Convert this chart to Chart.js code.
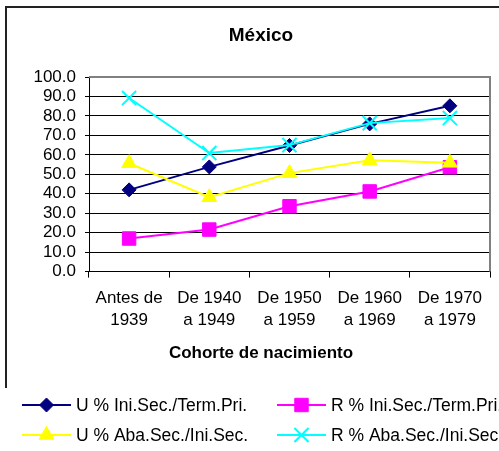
<!DOCTYPE html>
<html><head><meta charset="utf-8">
<script src="https://cdn.jsdelivr.net/npm/chart.js@4/dist/chart.umd.min.js"></script>
<style>
html,body{margin:0;padding:0;background:#fff;}
#wrap{position:relative;width:499px;height:451px;overflow:hidden;}
#frame{position:absolute;left:5px;top:6px;width:600px;height:380px;border-left:2px solid #222;border-top:2px solid #222;}
canvas{position:absolute;left:0;top:0;}
</style></head>
<body>
<div id="wrap"><div id="frame"></div><canvas id="c" width="522" height="451"></canvas></div>
<script>
const categories = [['Antes de','1939'],['De 1940','a 1949'],['De 1950','a 1959'],['De 1960','a 1969'],['De 1970','a 1979']];
const seriesNames = ['U % Ini.Sec./Term.Pri.','R % Ini.Sec./Term.Pri.','U % Aba.Sec./Ini.Sec.','R % Aba.Sec./Ini.Sec.'];
const uIniSec = [42.0, 53.8, 64.8, 75.9, 85.2];
const rIniSec = [17.0, 21.6, 33.6, 41.2, 53.6];
const uAbaSec = [55.7, 38.2, 50.6, 57.2, 55.9];
const rAbaSec = [89.2, 60.9, 65.0, 76.3, 78.9];
const titleText = 'México';
const xAxisTitle = 'Cohorte de nacimiento';

const FONT = "'Liberation Sans', Arial, sans-serif";
const styles = [
  {color:'#000080', pointStyle:'rectRot', radius:7, order:4},
  {color:'#FF00FF', pointStyle:'rect', radius:9.5, order:3},
  {color:'#FFFF00', pointStyle:'triangle', radius:8.5, order:2},
  {color:'#00FFFF', pointStyle:'crossRot', radius:10, order:1}
];
const values = [uIniSec, rIniSec, uAbaSec, rAbaSec];
const datasets = values.map((v,i)=>({
  label: seriesNames[i], data: v,
  borderColor: styles[i].color, backgroundColor: styles[i].color,
  pointBackgroundColor: styles[i].color, pointBorderColor: styles[i].color,
  pointStyle: styles[i].pointStyle, pointRadius: styles[i].radius, pointHoverRadius: styles[i].radius,
  pointBorderWidth: i===3 ? 2 : 1,
  borderWidth: 2, tension: 0, order: styles[i].order
}));

const framePlugin = {
  id:'frame',
  beforeDatasetsDraw(chart){
    const {ctx, chartArea:a} = chart;
    ctx.save();
    ctx.strokeStyle = '#808080'; ctx.lineWidth = 2;
    ctx.beginPath();
    ctx.moveTo(a.left, a.top); ctx.lineTo(a.right, a.top); ctx.lineTo(a.right, a.bottom);
    ctx.stroke();
    ctx.restore();
  }
};
const legendPlugin = {
  id:'customLegend',
  afterDraw(chart){
    const ctx = chart.ctx;
    const pos = [[22,405],[277,405],[22,435],[277,435]];
    ctx.save();
    datasets.forEach((d,i)=>{
      const [x,y] = pos[i];
      ctx.strokeStyle = d.borderColor; ctx.lineWidth = 2;
      ctx.beginPath(); ctx.moveTo(x,y); ctx.lineTo(x+49,y); ctx.stroke();
      ctx.fillStyle = d.borderColor; ctx.strokeStyle = d.borderColor;
      ctx.lineWidth = d.pointBorderWidth;
      Chart.helpers.drawPoint(ctx, {pointStyle:d.pointStyle, radius:d.pointRadius, rotation:0, borderWidth:d.pointBorderWidth}, x+24.5, y);
      ctx.fillStyle = '#000'; ctx.font = '17.5px ' + FONT;
      ctx.textAlign = 'left'; ctx.textBaseline = 'middle';
      ctx.fillText(d.label, x+54, y+1);
    });
    ctx.restore();
  }
};

new Chart(document.getElementById('c'), {
  type:'line',
  data:{labels: categories, datasets},
  options:{
    responsive:false, animation:false,
    layout:{padding:{top:0,left:0,right:0,bottom:87}},
    plugins:{
      legend:{display:false}, tooltip:{enabled:false},
      title:{display:true, text:titleText, color:'#000', font:{family:FONT, size:19, weight:'bold'}, padding:{top:24,bottom:30.2}},
      subtitle:{display:true, position:'bottom', text:xAxisTitle, color:'#000', font:{family:FONT, size:17, weight:'bold'}, padding:{top:12,bottom:0}}
    },
    scales:{
      x:{
        type:'category', offset:true,
        grid:{display:true, drawOnChartArea:false, offset:true, tickLength:6, color:'#000', tickColor:'#000'},
        border:{display:true, color:'#000', width:1},
        ticks:{color:'#000', font:{family:FONT, size:17, lineHeight:1.3}, padding:10, maxRotation:0, autoSkip:false},
        afterFit(s){ s.height = 60; }
      },
      y:{
        type:'linear', min:0, max:100,
        grid:{color:(c)=> c.tick && c.tick.value===100 ? '#808080' : '#000', tickLength:4, tickColor:'#000', lineWidth:1},
        border:{display:true, color:'#000', width:1},
        ticks:{stepSize:10, autoSkip:false, color:'#000', font:{family:FONT, size:17}, padding:9, callback:(v)=>Number(v).toFixed(1)},
        afterFit(s){ s.width = 89; }
      },
      y2:{
        type:'linear', position:'right', display:true,
        grid:{display:false}, border:{display:false}, ticks:{display:false},
        afterFit(s){ s.width = 32; }
      }
    }
  },
  plugins:[framePlugin, legendPlugin]
});
</script>
</body></html>
